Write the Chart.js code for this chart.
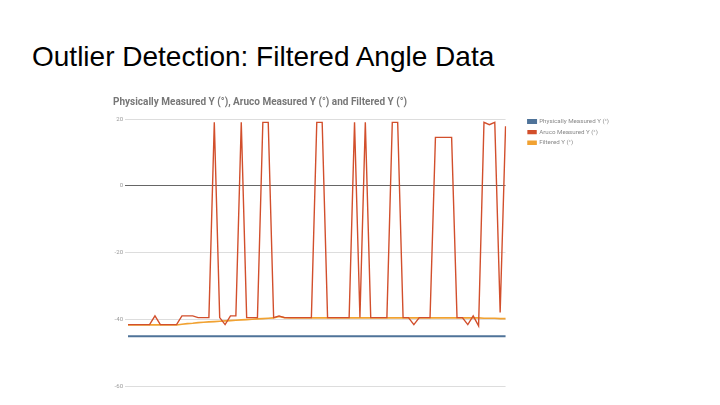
<!DOCTYPE html>
<html>
<head>
<meta charset="utf-8">
<script src="https://cdn.jsdelivr.net/npm/chart.js@4/dist/chart.umd.min.js"></script>
<style>
  html, body { margin: 0; padding: 0; background: #fff; }
  body { width: 720px; height: 405px; position: relative; overflow: hidden; }
  #slideTitle {
    position: absolute; left: 32px; top: 41px;
    font-family: "Liberation Sans", Arial, sans-serif; font-size: 28px; color: #000;
  }
  #wrap { position: absolute; left: 108px; top: 88px; width: 520px; height: 304px; }
</style>
</head>
<body>
<div id="slideTitle">Outlier Detection: Filtered Angle Data</div>
<div id="wrap"><canvas id="myChart"></canvas></div>
<script>
// samples, one per reading
var samples = [];
for (var n = 1; n <= 71; n++) samples.push(n);

var physical = [
  -45.1, -45.1, -45.1, -45.1, -45.1, -45.1, -45.1, -45.1, -45.1, -45.1,
  -45.1, -45.1, -45.1, -45.1, -45.1, -45.1, -45.1, -45.1, -45.1, -45.1,
  -45.1, -45.1, -45.1, -45.1, -45.1, -45.1, -45.1, -45.1, -45.1, -45.1,
  -45.1, -45.1, -45.1, -45.1, -45.1, -45.1, -45.1, -45.1, -45.1, -45.1,
  -45.1, -45.1, -45.1, -45.1, -45.1, -45.1, -45.1, -45.1, -45.1, -45.1,
  -45.1, -45.1, -45.1, -45.1, -45.1, -45.1, -45.1, -45.1, -45.1, -45.1,
  -45.1, -45.1, -45.1, -45.1, -45.1, -45.1, -45.1, -45.1, -45.1, -45.1,
  -45.1
];

var aruco = [
  -41.6, -41.6, -41.6, -41.6, -41.6, -39, -41.6, -41.6, -41.6, -41.6,
  -39, -39, -39, -39.5, -39.5, -39.5, 19, -39.5, -41.6, -39,
  -39, 19, -39.5, -39.5, -39.5, 19, 19, -39.5, -39, -39.5,
  -39.5, -39.5, -39.5, -39.5, -39.5, 19, 19, -39.5, -39.5, -39.5,
  -39.5, -39.5, 19, -39.5, 19, -39.5, -39.5, -39.5, -39.5, 19,
  19, -39.5, -39.5, -41.6, -39.5, -39.5, -39.5, 14.5, 14.5, 14.5,
  14.5, -39.5, -39.5, -41.6, -39, -42, 19, 18.3, 19, -38,
  17.8
];

var filtered = [
  -41.7, -41.7, -41.7, -41.7, -41.7, -41.7, -41.7, -41.7, -41.7, -41.7,
  -41.5, -41.3, -41.2, -41.0, -40.9, -40.8, -40.7, -40.6, -40.5, -40.4,
  -40.3, -40.2, -40.1, -40.0, -39.9, -39.8, -39.7, -39.6, -39.2, -39.5,
  -39.6, -39.6, -39.6, -39.6, -39.6, -39.6, -39.6, -39.6, -39.6, -39.6,
  -39.6, -39.6, -39.6, -39.6, -39.6, -39.6, -39.6, -39.6, -39.6, -39.6,
  -39.6, -39.6, -39.6, -39.6, -39.6, -39.6, -39.6, -39.6, -39.6, -39.6,
  -39.6, -39.6, -39.6, -39.6, -39.6, -39.6, -39.7, -39.7, -39.7, -39.8,
  -39.8
];

var seriesNames = ['Physically Measured Y (°)', 'Aruco Measured Y (°)', 'Filtered Y (°)'];
var yTicks = [20, 0, -20, -40, -60];

// space between plot area and legend
var LEGEND_GAP = 18;
var legendGap = {
  id: 'legendGap',
  beforeLayout: function (chart) {
    var lg = chart.legend;
    if (lg && !lg._gapWrapped) {
      var orig = lg.fit;
      lg.fit = function () { orig.call(this); this.width += LEGEND_GAP; };
      lg._gapWrapped = true;
    }
  },
  afterLayout: function (chart) {
    if (chart.legend) chart.legend.left += LEGEND_GAP;
  }
};

var ctx = document.getElementById('myChart').getContext('2d');
var myChart = new Chart(ctx, {
  type: 'line',
  data: {
    labels: samples,
    datasets: [{
      label: seriesNames[0],
      data: physical,
      borderColor: '#4f7399',
      backgroundColor: '#4f7399',
      borderWidth: 2
    }, {
      label: seriesNames[1],
      data: aruco,
      borderColor: '#d24f2c',
      backgroundColor: '#d24f2c',
      borderWidth: 1.4
    }, {
      label: seriesNames[2],
      data: filtered,
      borderColor: '#f1a232',
      backgroundColor: '#f1a232',
      borderWidth: 1.6
    }]
  },
  plugins: [legendGap],
  options: {
    responsive: true,
    maintainAspectRatio: false,
    animation: false,
    elements: { point: { radius: 0 }, line: { tension: 0 } },
    layout: { padding: { left: 5, right: 9, top: 0, bottom: 6 } },
    plugins: {
      legend: {
        position: 'right',
        align: 'start',
        title: { display: true, text: ' ', padding: { top: 0, bottom: 18 }, font: { size: 6.5 } },
        labels: {
          boxWidth: 8,
          boxHeight: 3,
          padding: 4.5,
          color: '#888',
          font: { family: 'Roboto, Arial, sans-serif', size: 6.2 }
        }
      },
      title: {
        display: true,
        text: 'Physically Measured Y (°), Aruco Measured Y (°) and Filtered Y (°)',
        align: 'start',
        color: '#777',
        padding: { top: 8, bottom: 11 },
        font: { family: 'Roboto, Arial, sans-serif', size: 10, weight: 'bold' }
      },
      tooltip: { enabled: false }
    },
    scales: {
      x: {
        display: false
      },
      y: {
        min: -60,
        max: 20,
        afterFit: function (axis) { axis.width = 15; },
        afterBuildTicks: function (axis) {
          axis.ticks = yTicks.map(function (v) { return { value: v }; });
        },
        border: { display: false },
        grid: {
          drawTicks: true,
          tickLength: 3,
          color: function (c) { return c.tick && c.tick.value === 0 ? '#666' : '#ddd'; },
          lineWidth: 1
        },
        ticks: {
          color: '#999',
          padding: 2,
          font: { family: 'Roboto, Arial, sans-serif', size: 6 }
        }
      }
    }
  }
});
</script>
</body>
</html>
